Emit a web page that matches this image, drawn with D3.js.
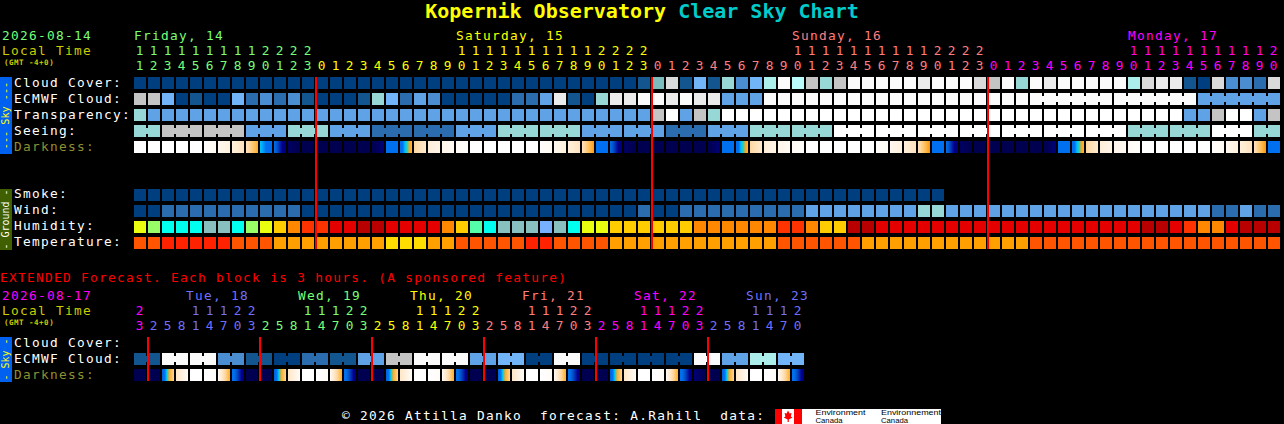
<!DOCTYPE html>
<html><head><meta charset="utf-8">
<style>
html,body{margin:0;padding:0;background:#000;overflow:hidden}
svg{display:block}
text{font-family:"DejaVu Sans Mono",monospace;font-size:12.8px;letter-spacing:1.3px;white-space:pre}
rect{shape-rendering:crispEdges}
</style>
<script src="https://cdn.jsdelivr.net/npm/d3@7"></script>
</head><body>
<script>
const titleMain = "Kopernik Observatory";
const titleSub = "Clear Sky Chart";
const hours = [11,12,13,14,15,16,17,18,19,20,21,22,23,
  0,1,2,3,4,5,6,7,8,9,10,11,12,13,14,15,16,17,18,19,20,21,22,23,
  0,1,2,3,4,5,6,7,8,9,10,11,12,13,14,15,16,17,18,19,20,21,22,23,
  0,1,2,3,4,5,6,7,8,9,10,11,12,13,14,15,16,17,18,19,20];
const dayOfColumn = [
  0,0,0,0,0,0,0,0,0,0,0,0,0,
  1,1,1,1,1,1,1,1,1,1,1,1,1,1,1,1,1,1,1,1,1,1,1,1,
  2,2,2,2,2,2,2,2,2,2,2,2,2,2,2,2,2,2,2,2,2,2,2,2,
  3,3,3,3,3,3,3,3,3,3,3,3,3,3,3,3,3,3,3,3,3];
const dayLabels = ["Friday, 14","Saturday, 15","Sunday, 16","Monday, 17"];
const dayColors = ["#77ff77","#ffff00","#ff7f7f","#ff00ff"];
const dayLabelColumns = [0,23,47,71];
const midnightColumns = [13,37,61];

const cloudCover = [
 0,0,0,0,0,0,0,0,0,0, 0,0,0,0,0,0,0,0,0,0, 0,0,0,0,0,0,0,0,0,0,
 0,0,0,0,0,0,1,6,11,1, 5,1,7,3,5,8,13,9,10,7, 10,13,13,13,13,13,12,13,13,13,
 11,10,13,7,13,12,13,13,13,13, 13,8,11,12,12,1,0,11,3,3, 2,11];
const ecmwfCloud = [
 10,10,5,0,1,0,0,5,2,3, 2,3,1,0,0,0,1,7,5,2, 4,3,0,0,0,0,0,2,2,4,
 12,1,0,7,12,12,13,13,12,13, 12,12,4,4,4,13,13,13,13,13, 13,13,13,13,13,13,13,13,13,13,
 13,13,13,13,13,13,13,13,13,13, 13,13,13,13,13,13,4,4,4,4, 4,4];
const transparency = [
 7,4,4,4,4,4,4,4,4,4, 4,4,4,4,4,4,4,4,4,4, 4,4,4,4,4,4,4,4,4,4,
 4,4,4,4,4,4,4,10,14,4, 10,7,14,14,14,14,14,14,14,14, 14,14,14,14,14,14,14,14,14,14,
 14,14,14,14,14,14,14,14,14,14, 14,14,14,14,14,4,4,10,14,14, 4,10];
const seeing = [
 7,7,10,10,10,10,10,10,4,4, 4,7,7,7,4,4,4,2,2,2, 2,2,2,4,4,4,7,7,7,7,
 7,7,4,4,4,4,4,4,2,2, 2,4,4,4,7,7,7,7,7,7, 14,14,14,14,14,14,14,14,14,14,
 14,14,14,14,14,14,14,14,14,14, 14,7,7,7,7,7,7,14,14,14, 7,7];
const darknessStart = [
 0,0,0,0,0,.1,.4,.9,1.7,4.2, 5,7.4,8,8,8,8,8,8,5,5, 2.2,1,.5,.2,0,0,0,0,0,.1,
 .4,.9,1.7,4.6,5,7.4,8,8,8,8, 8,8,5,5,2.2,1,.5,.2,0,0, 0,0,0,.1,.4,.9,1.7,4.6,5,7.4,
 8,8,8,8,8,8,5,5,2.2,1, .5,.2,0,0,0,0,0,.1,.4,.9, 1.7,4.6];
const darknessEnd = [
 0,0,0,0,0,.3,.8,1.6,3.4,5, 7.2,8,8,8,8,8,8,7,5,3.2, 1.2,.6,.3,.1,0,0,0,0,0,.3,
 .8,1.6,3.7,5,7.2,8,8,8,8,8, 8,7,5,3.2,1.2,.6,.3,.1,0,0, 0,0,0,.3,.8,1.6,3.8,5,7.2,8,
 8,8,8,8,8,7,5,3.2,1.2,.6, .3,.1,0,0,0,0,0,.3,.8,1.6, 3.8,5];
const smoke = [
 0,0,0,0,0,0,0,0,0,0, 0,0,0,0,0,0,0,0,0,0, 0,0,0,0,0,0,0,0,0,0,
 0,0,0,0,0,0,0,0,0,0, 0,0,0,0,0,0,0,0,0,0, 0,0,0,0,0,0,0,0];
const wind = [
 0,0,2,2,2,2,2,2,2,2, 2,2,0,0,0,0,0,0,0,0, 0,0,0,0,0,0,0,0,0,0,
 0,0,0,0,0,0,2,0,0,2, 2,2,2,2,2,2,2,2,4,4, 4,4,4,4,4,4,7,7,4,4,
 4,4,4,4,4,4,4,4,4,4, 4,4,4,4,4,4,4,2,2,4, 2,2];
const humidity = [
 65,60,50,50,50,45,45,50,60,65, 70,75,80,80,85,85,90,90,85,85, 85,85,75,70,55,50,45,45,45,40,
 45,50,65,65,70,70,70,70,70,70, 75,75,75,75,75,75,80,80,75,70, 70,90,90,85,85,85,85,85,85,85,
 85,85,85,85,85,85,85,85,85,85, 85,85,90,90,85,80,75,75,85,90, 90,90];
const temperature = [
 24,24,27,27,27,27,27,24,24,24, 21,21,21,21,21,21,21,21,18,18, 18,21,21,24,24,24,24,24,27,27,
 24,24,24,24,21,21,21,21,21,21, 21,21,21,21,21,21,24,24,24,24, 24,24,21,21,21,21,21,21,21,21,
 21,21,21,21,24,24,24,24,24,24, 24,24,24,24,24,24,24,24,24,24, 24,24];

const extHours = [23,2,5,8,11,14,17,20,23,2,5,8,11,14,17,20,23,2,5,8,11,14,17,20,23,
  2,5,8,11,14,17,20,23,2,5,8,11,14,17,20,23,2,5,8,11,14,17,20];
const extDayOfColumn = [0,1,1,1,1,1,1,1,1,2,2,2,2,2,2,2,2,3,3,3,3,3,3,3,3,
  4,4,4,4,4,4,4,4,5,5,5,5,5,5,5,5,6,6,6,6,6,6,6];
const extDayLabels = ["","Tue, 18","Wed, 19","Thu, 20","Fri, 21","Sat, 22","Sun, 23"];
const extDayColors = ["#ff00ff","#7070ff","#77ff77","#ffff00","#ff7f7f","#ff00ff","#7070ff"];
const extDayLabelColumns = [0,4,12,20,28,36,44];
const extMidnightColumns = [1,9,17,25,33,41];
const extEcmwf = [1,1,13,13,13,13,3,3,1,1,0,0,2,2,1,1,4,4,10,10,13,13,13,13,
  4,4,5,5,0,0,13,13,0,0,0,0,0,0,0,0,13,13,4,4,8,8,5,5];
const extDarkStart = [8,8,5.4,1.4,0,0,.3,4.6, 8,8,5.4,1.4,0,0,.3,4.6, 8,8,5.4,1.4,0,0,.3,4.6,
  8,8,5.4,1.4,0,0,.3,4.6, 8,8,5.4,1.4,0,0,.3,4.6, 7,8,5.4,1.4,0,0,.3,4.6];
const extDarkEnd = [8,8,2.2,.2,0,.2,3.4,7, 8,8,2.2,.2,0,.2,3.4,7, 8,8,2.2,.2,0,.2,3.4,7,
  8,8,2.2,.2,0,.2,3.4,7, 8,8,2.2,.2,0,.2,3.4,7, 8,8,2.2,.2,0,.2,3.4,7];

// ---------- colour scales ----------
const cloudLevels = d3.range(15);
const cloudColors = ["#003f7f","#13558f","#2b6cae","#4a8dd0","#5fa2e5","#72b4f8","#7dbcbc",
  "#97d8d6","#aceeec","#b8fbfa","#c4c4c4","#dadada","#ebebeb","#fbfbfb","#ffffff"];
const cloudScale = d3.scaleOrdinal(cloudLevels, cloudColors);
const humidityScale = d3.scaleOrdinal([40,45,50,55,60,65,70,75,80,85,90],
  ["#77b0ff","#88c0c0","#00ffee","#55ffaa","#99ff66","#eaff10","#ffcc00","#ff8800","#ff3300","#e50000","#b80000"]);
const temperatureScale = d3.scaleOrdinal([18,21,24,27],["#ffdd00","#ffa000","#ff5500","#ff2200"]);
const darkScale = d3.scaleLinear()
  .domain([0,.5,1,2,3,3.6,3.95,4.2,4.6,5,5.6,6.5,7.5,8])
  .range(["#ffffff","#fff6ea","#ffeed8","#ffdcac","#ffbc50","#ffa020","#20d0b0","#00c8ff","#0070f0","#0070f0","#0050c8","#000090","#000060","#000050"]);

// ---------- scaffolding ----------
const svg = d3.select("body").append("svg").attr("width",1284).attr("height",424);
const defs = svg.append("defs");
svg.append("rect").attr("width",1284).attr("height",424).attr("fill","#000");

function label(x,y,s,fill,extra){
  const t = svg.append("text").attr("x",x).attr("y",y).attr("fill",fill).text(s);
  if(extra) extra(t);
  return t;
}
const xTop = d3.scaleBand().domain(d3.range(82)).range([134,134+82*14-2]).paddingInner(2/14).paddingOuter(0);
const xExt = d3.scaleBand().domain(d3.range(48)).range([134,134+48*14-2]).paddingInner(2/14).paddingOuter(0);
const band = (domain,top)=>d3.scaleBand().domain(domain).range([top,top+domain.length*16-4]).paddingInner(.25).paddingOuter(0);
const ySky = band(["cloud","ecmwf","transparency","seeing","darkness"],77);
const yGround = band(["smoke","wind","humidity","temperature"],189);
const yExt = band(["cloud","ecmwf","darkness"],337);

function cellRow(x,y,values,color,joined){
  const g = svg.append("g");
  g.selectAll("rect.cell").data(values).join("rect").attr("class","cell")
    .attr("x",(d,i)=>Math.round(x(i))).attr("y",Math.round(y))
    .attr("width",12).attr("height",12).attr("fill",d=>color(d));
  if(joined){
    const pairs = values.map((d,i)=>({d,i})).filter(o=>o.i<values.length-1 && joined(o.i));
    g.selectAll("rect.join").data(pairs).join("rect").attr("class","join")
      .attr("x",o=>Math.round(x(o.i))+12).attr("y",Math.round(y)+3)
      .attr("width",2).attr("height",6).attr("fill",o=>color(o.d));
  }
}
let gid = 0;
function darkRow(x,y,starts,ends){
  const g = svg.append("g");
  starts.forEach((s,i)=>{
    const id = "dk"+(gid++);
    const lg = defs.append("linearGradient").attr("id",id);
    d3.range(0,1.0001,1/10).forEach(f=>{
      lg.append("stop").attr("offset",f).attr("stop-color",darkScale(s+(ends[i]-s)*f));
    });
    g.append("rect").attr("x",Math.round(x(i))).attr("y",Math.round(y))
     .attr("width",12).attr("height",12).attr("fill",`url(#${id})`);
  });
}
function sideBar(y0,y1,fill,textFill,s,fs){
  svg.append("rect").attr("x",0).attr("y",y0).attr("width",12).attr("height",y1-y0).attr("fill",fill);
  svg.append("text").attr("transform",`translate(9,${(y0+y1)/2}) rotate(-90)`)
    .attr("text-anchor","middle").attr("fill",textFill).style("font-size",fs+"px").style("letter-spacing","0px").text(s);
}
function hourHeader(x,hrs,colOf,colors,yTens,yUnits){
  const g = svg.append("g").attr("text-anchor","middle").style("letter-spacing","0px");
  g.selectAll("text.t").data(hrs.map((h,i)=>({h,i})).filter(o=>o.h>=10)).join("text").attr("class","t")
    .style("letter-spacing","0px")
    .attr("x",o=>x(o.i)+5.5).attr("y",yTens).attr("fill",o=>colors[colOf[o.i]]).text(o=>Math.floor(o.h/10));
  g.selectAll("text.u").data(hrs.map((h,i)=>({h,i}))).join("text").attr("class","u")
    .style("letter-spacing","0px")
    .attr("x",o=>x(o.i)+5.5).attr("y",yUnits).attr("fill",o=>colors[colOf[o.i]]).text(o=>o.h%10);
}
function redLines(x,cols,y0,y1){
  svg.append("g").selectAll("rect").data(cols).join("rect")
    .attr("x",c=>Math.round(x(c))-1).attr("y",y0).attr("width",2).attr("height",y1-y0).attr("fill","#ff0000");
}

// ---------- title ----------
const title = svg.append("text").attr("x",642).attr("y",18).attr("text-anchor","middle")
  .style("font-size","20px").style("font-weight","bold").style("letter-spacing","0px");
title.append("tspan").attr("fill","#ffff00").text(titleMain+" ");
title.append("tspan").attr("fill","#00cccc").text(titleSub);

// ---------- main block ----------
const gmtStyle = t=>t.style("font-size","7.5px").style("font-weight","bold").style("letter-spacing","0.5px");
label(2,40,"2026-08-14","#77ff77");
label(2,55,"Local Time","#cccc00");
label(4,65,"(GMT -4+0)","#cccc00",gmtStyle);
dayLabels.forEach((s,i)=>label(xTop(dayLabelColumns[i]),40,s,dayColors[i]));
hourHeader(xTop,hours,dayOfColumn,dayColors,55,70);

[["Cloud Cover:",87,"#fff"],["ECMWF Cloud:",103,"#fff"],["Transparency:",119,"#fff"],["Seeing:",135,"#fff"],["Darkness:",151,"#8f8f2f"],
 ["Smoke:",198,"#fff"],["Wind:",214,"#fff"],["Humidity:",230,"#fff"],["Temperature:",246,"#fff"]]
 .forEach(r=>label(14,r[1],r[0],r[2]));

sideBar(77,154,"#0060f0","#ffff00","--- Sky ---",10.2);
sideBar(189,250,"#3f5f00","#ffffff","- Ground -",10);

const byLevel = d=>cloudScale(d);
cellRow(xTop,ySky("cloud"),cloudCover,byLevel);
cellRow(xTop,ySky("ecmwf"),ecmwfCloud,byLevel,i=>i>=64 && (i-64)%6!==5);
cellRow(xTop,ySky("transparency"),transparency,byLevel);
cellRow(xTop,ySky("seeing"),seeing,byLevel,i=>(i+1)%3!==2);
darkRow(xTop,ySky("darkness"),darknessStart,darknessEnd);
cellRow(xTop,yGround("smoke"),smoke,byLevel);
cellRow(xTop,yGround("wind"),wind,byLevel);
cellRow(xTop,yGround("humidity"),humidity,d=>humidityScale(d));
cellRow(xTop,yGround("temperature"),temperature,d=>temperatureScale(d));
redLines(xTop,midnightColumns,77,249);

// ---------- extended block ----------
label(0,282,"EXTENDED Forecast. Each block is 3 hours. (A sponsored feature)","#ff0000");
label(2,300,"2026-08-17","#ff00ff");
label(2,315,"Local Time","#cccc00");
label(4,325,"(GMT -4+0)","#cccc00",gmtStyle);
extDayLabels.forEach((s,i)=>{ if(s) label(xExt(extDayLabelColumns[i])-4,300,s,extDayColors[i]); });
hourHeader(xExt,extHours,extDayOfColumn,extDayColors,315,330);
[["Cloud Cover:",347,"#fff"],["ECMWF Cloud:",363,"#fff"],["Darkness:",379,"#8f8f2f"]].forEach(r=>label(14,r[1],r[0],r[2]));
sideBar(337,382,"#0060f0","#ffff00","- Sky -",10);
cellRow(xExt,yExt("ecmwf"),extEcmwf,byLevel,i=>i%2===0);
darkRow(xExt,yExt("darkness"),extDarkStart,extDarkEnd);
redLines(xExt,extMidnightColumns,337,381);

// ---------- footer ----------
label(342,420,"© 2026 Attilla Danko  forecast: A.Rahill  data:","#ffffff");
svg.append("rect").attr("x",775).attr("y",409).attr("width",27).attr("height",15).attr("fill","#ff0000");
svg.append("rect").attr("x",782).attr("y",409).attr("width",12).attr("height",15).attr("fill","#ffffff");
svg.append("path").attr("d","M788 410.5 L789.6 413.5 L791.6 413 L790.8 416.5 L792.5 417.5 L788.8 419.5 L788.8 422 L787.6 422 L787.6 419.5 L783.8 417.5 L785.4 416.5 L784.6 413 L786.6 413.5 Z").attr("fill","#ff0000");
svg.append("rect").attr("x",802).attr("y",409).attr("width",139).attr("height",15).attr("fill","#ffffff");
[[815.5,"Environment",50],[881,"Environnement",60]].forEach(e=>{
  const small = t=>t.style("font-family","Liberation Sans").style("font-size","7px").style("letter-spacing","0px");
  svg.append("text").attr("x",e[0]).attr("y",415).attr("fill","#000").attr("textLength",e[2]).attr("lengthAdjust","spacingAndGlyphs").call(small).text(e[1]);
  svg.append("text").attr("x",e[0]).attr("y",423).attr("fill","#000").attr("textLength",27).attr("lengthAdjust","spacingAndGlyphs").call(small).text("Canada");
});
</script>
</body></html>
